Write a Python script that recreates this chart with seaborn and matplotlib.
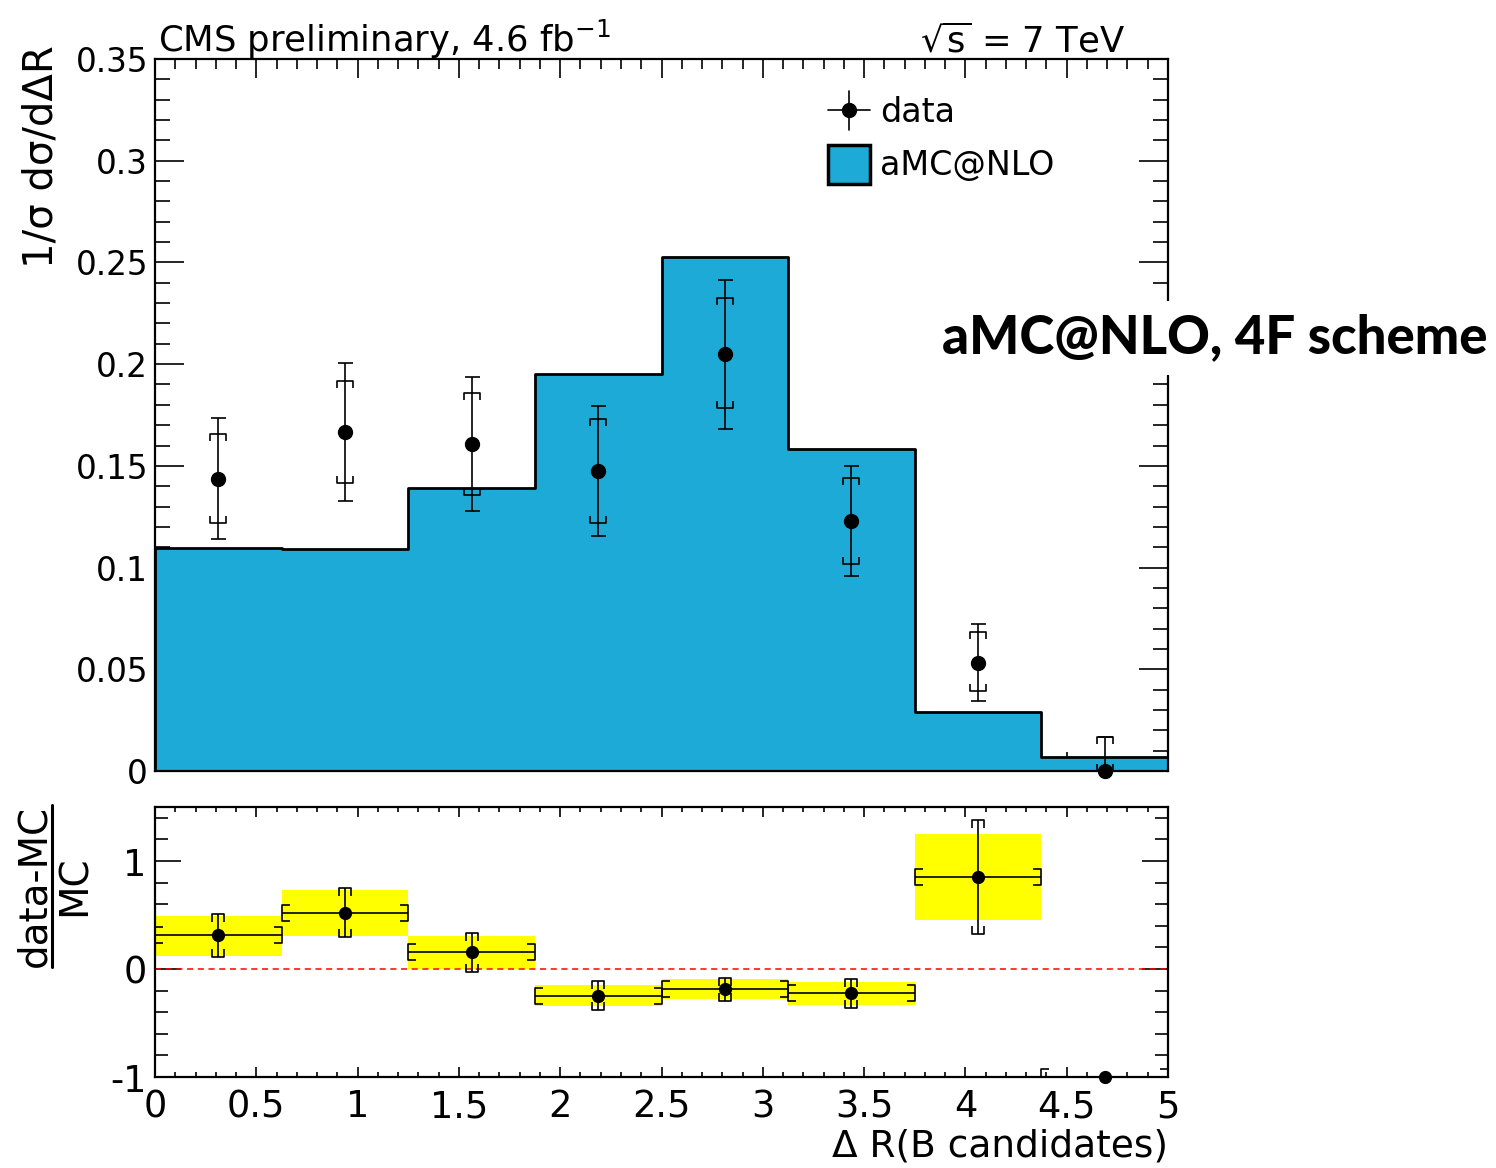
import numpy as np
import matplotlib
matplotlib.use("Agg")
import matplotlib.pyplot as plt
import seaborn as sns
from matplotlib.path import Path
from matplotlib.lines import Line2D
from matplotlib.patches import Patch
from matplotlib.legend_handler import HandlerBase
from matplotlib.ticker import MultipleLocator, FuncFormatter

# ---------------- data ----------------
bin_edges = [0.0, 0.625, 1.25, 1.875, 2.5, 3.125, 3.75, 4.375, 5.0]
bin_centers = [0.3125, 0.9375, 1.5625, 2.1875, 2.8125, 3.4375, 4.0625, 4.6875]

# aMC@NLO prediction, normalised 1/sigma dsigma/dDeltaR
mc_values = [0.1098, 0.1093, 0.1392, 0.1953, 0.2525, 0.1585, 0.0288, 0.0068]

# measured distribution with statistical (inner) and total (outer) bands
data_values = [0.1436, 0.1667, 0.1605, 0.1474, 0.2050, 0.1229, 0.0533, 0.0]
data_stat_hi = [0.1655, 0.1915, 0.1858, 0.1730, 0.2324, 0.1441, 0.0683, 0.0165]
data_stat_lo = [0.1220, 0.1417, 0.1355, 0.1217, 0.1783, 0.1018, 0.0392, 0.0]
data_tot_hi = [0.1735, 0.2007, 0.1935, 0.1792, 0.2416, 0.1500, 0.0722, 0.0167]
data_tot_lo = [0.1139, 0.1327, 0.1278, 0.1154, 0.1683, 0.0958, 0.0343, 0.0]

# (data - MC) / MC
ratio_values = [0.315, 0.520, 0.154, -0.247, -0.188, -0.225, 0.849, -1.0]
ratio_err_hi = [0.510, 0.747, 0.336, -0.111, -0.080, -0.093, 1.380, -1.0]
ratio_err_lo = [0.114, 0.300, -0.025, -0.380, -0.296, -0.364, 0.320, -1.0]
band_hi = [0.490, 0.730, 0.305, -0.148, -0.093, -0.123, 1.250, -1.0]
band_lo = [0.120, 0.310, 0.000, -0.340, -0.280, -0.333, 0.456, -1.0]

top_yticks = [0, 0.05, 0.1, 0.15, 0.2, 0.25, 0.3, 0.35]
bottom_yticks = [-1, 0, 1]
xticks = [0, 0.5, 1, 1.5, 2, 2.5, 3, 3.5, 4, 4.5, 5]

# ---------------- style ----------------
sns.set_theme(style="ticks")
plt.rcParams["font.family"] = ["DejaVu Sans"]
plt.rcParams["mathtext.fontset"] = "dejavusans"
plt.rcParams["axes.unicode_minus"] = False
for key in ("text.color", "axes.labelcolor", "xtick.color", "ytick.color",
            "axes.edgecolor"):
    plt.rcParams[key] = "black"

BLUE = "#1EAAD6"
W, H = 1496, 1168
fig = plt.figure(figsize=(W / 100, H / 100), dpi=100)


def fx(px):
    return px / W


def fy(py):
    return 1 - py / H


ax = fig.add_axes([fx(155), fy(771), fx(1168) - fx(155), fy(59) - fy(771)])
ax2 = fig.add_axes([fx(155), fy(1077), fx(1168) - fx(155), fy(807) - fy(1077)])


def bracket(direction, leg):
    """Open bracket-shaped cap marker."""
    if direction == "top":
        verts = [(-1, -leg), (-1, 0), (1, 0), (1, -leg)]
    elif direction == "bottom":
        verts = [(-1, leg), (-1, 0), (1, 0), (1, leg)]
    elif direction == "left":
        verts = [(leg, -1), (0, -1), (0, 1), (leg, 1)]
    else:
        verts = [(-leg, -1), (0, -1), (0, 1), (-leg, 1)]
    codes = [Path.MOVETO, Path.LINETO, Path.LINETO, Path.LINETO]
    return Path(verts, codes)


# ---------------- top panel ----------------
sns.histplot(x=bin_centers, weights=mc_values, bins=bin_edges, element="step",
             fill=True, color=BLUE, alpha=1, edgecolor="black", linewidth=2.0,
             ax=ax, zorder=1)

d = np.array(data_values)
ax.errorbar(bin_centers, d,
            yerr=[d - np.array(data_tot_lo), np.array(data_tot_hi) - d],
            fmt="o", color="black", ms=10, elinewidth=1.2, capsize=5.4,
            capthick=1.2, zorder=6, clip_on=False)
ax.plot(bin_centers, data_stat_hi, ls="none", marker=bracket("top", 0.82),
        ms=12.2, mec="black", mfc="none", mew=1.2, zorder=4)
ax.plot(bin_centers, data_stat_lo, ls="none", marker=bracket("bottom", 0.82),
        ms=12.2, mec="black", mfc="none", mew=1.2, zorder=4)

ax.set_xlim(0, 5)
ax.set_ylim(0, 0.35)
ax.set_xlabel("")
ax.set_ylabel("")
ax.set_yticks(top_yticks)
ax.yaxis.set_major_formatter(FuncFormatter(lambda v, p: f"{v:g}"))
ax.xaxis.set_major_locator(MultipleLocator(0.5))
ax.xaxis.set_minor_locator(MultipleLocator(0.1))
ax.yaxis.set_minor_locator(MultipleLocator(0.01))
ax.tick_params(axis="x", which="both", direction="in", top=True, bottom=True,
               labelbottom=False)
ax.tick_params(axis="x", which="major", length=14, width=1.2)
ax.tick_params(axis="x", which="minor", length=7, width=1.2)
ax.tick_params(axis="y", which="both", direction="in", left=True, right=True,
               labelsize=23.5, pad=5)
ax.tick_params(axis="y", which="major", length=21, width=1.2)
ax.tick_params(axis="y", which="minor", length=11, width=1.2)
for s in ax.spines.values():
    s.set_linewidth(1.6)
    s.set_color("black")
    s.set_zorder(5)


class DataHandler(HandlerBase):
    def create_artists(self, legend, orig_handle, xdescent, ydescent,
                       width, height, fontsize, trans):
        cx = width / 2 - xdescent
        cy = height / 2 - ydescent
        h = Line2D([-xdescent, width - xdescent], [cy, cy], color="black",
                   lw=1.2, transform=trans)
        v = Line2D([cx, cx], [-ydescent, height - ydescent], color="black",
                   lw=1.2, transform=trans)
        dot = Line2D([cx], [cy], marker="o", ms=10, color="black", ls="none",
                     transform=trans)
        return [h, v, dot]


data_handle = Line2D([], [], color="black")
mc_handle = Patch(facecolor=BLUE, edgecolor="black", linewidth=2.5)
ax.legend([data_handle, mc_handle], ["data", "aMC@NLO"],
          handler_map={data_handle: DataHandler()},
          loc="upper left", bbox_to_anchor=((828 - 155) / 1013, (771 - 91) / 712),
          frameon=False, fontsize=24, handlelength=1.27, handleheight=1.42,
          handletextpad=0.3, labelspacing=0.45, borderpad=0, borderaxespad=0)

# ---------------- ratio panel ----------------
lo = np.array(band_lo)
hi = np.array(band_hi)
ax2.bar(bin_centers, hi - lo, bottom=lo, width=0.625, color="#FFFF00",
        linewidth=0, zorder=1)
ax2.axhline(0, color="red", ls=(0, (4, 3)), lw=1.1, zorder=2)

r = np.array(ratio_values)
rh = np.array(ratio_err_hi)
rl = np.array(ratio_err_lo)
ax2.errorbar(bin_centers, r, xerr=0.3125, yerr=[r - rl, rh - r], fmt="o",
             color="black", ms=8.5, elinewidth=1.2, capsize=0, zorder=6,
             clip_on=False)
has_y = (rh - rl) > 0
cx = np.array(bin_centers)
ax2.plot(cx[has_y], rh[has_y], ls="none", marker=bracket("top", 1.3),
         ms=11.5, mec="black", mfc="none", mew=1.2, zorder=4)
ax2.plot(cx[has_y], rl[has_y], ls="none", marker=bracket("bottom", 1.3),
         ms=11.5, mec="black", mfc="none", mew=1.2, zorder=4)
ax2.plot(bin_edges[:-1], r, ls="none", marker=bracket("left", 0.9),
         ms=12.2, mec="black", mfc="none", mew=1.2, zorder=4)
ax2.plot(bin_edges[1:], r, ls="none", marker=bracket("right", 0.9),
         ms=12.2, mec="black", mfc="none", mew=1.2, zorder=4)

ax2.set_xlim(0, 5)
ax2.set_ylim(-1, 1.5)
ax2.set_xticks(xticks)
ax2.set_yticks(bottom_yticks)
ax2.xaxis.set_major_formatter(FuncFormatter(lambda v, p: f"{v:g}"))
ax2.yaxis.set_major_formatter(FuncFormatter(lambda v, p: f"{v:g}"))
ax2.xaxis.set_minor_locator(MultipleLocator(0.1))
ax2.yaxis.set_minor_locator(MultipleLocator(0.2))
ax2.tick_params(axis="x", which="both", direction="in", top=True, bottom=True,
                labelsize=26.5, pad=8)
ax2.tick_params(axis="x", which="major", length=7.5, width=1.2)
ax2.tick_params(axis="x", which="minor", length=3.8, width=1.2)
ax2.tick_params(axis="y", which="both", direction="in", left=True, right=True,
                labelsize=26.5, pad=6)
ax2.tick_params(axis="y", which="major", length=19, width=1.2)
ax2.tick_params(axis="y", which="minor", length=9.5, width=1.2)
for s in ax2.spines.values():
    s.set_linewidth(1.6)
    s.set_color("black")
    s.set_zorder(5)

# ---------------- labels ----------------
fig.text(fx(158), fy(52), r"CMS preliminary, 4.6 fb$^{\mathregular{-1}}$",
         fontsize=25.5, ha="left", va="baseline")
fig.text(fx(1125), fy(52), r"$\sqrt{\mathrm{s}}$ = 7 TeV", fontsize=25.5,
         ha="right", va="baseline")
fig.text(fx(42), fy(157), "1/σ dσ/dΔR", fontsize=29, rotation=90,
         ha="center", va="center")
fig.text(fx(1168), fy(1157), "Δ R(B candidates)", fontsize=27,
         ha="right", va="baseline")

fig.text(fx(34), fy(886), "data-MC", fontsize=28, rotation=90,
         ha="center", va="center")
fig.text(fx(75), fy(886), "MC", fontsize=28, rotation=90,
         ha="center", va="center")
fig.add_artist(Line2D([fx(52), fx(52)], [fy(967), fy(805)], color="black",
                      lw=2.2, transform=fig.transFigure))

fig.text(fx(1488), fy(338), "aMC@NLO, 4F scheme", fontsize=38,
         family=["Lato", "DejaVu Sans"], weight="black", ha="right",
         va="center", zorder=10,
         bbox=dict(facecolor="white", edgecolor="none", pad=9))

fig.savefig("out.png", dpi=100)
